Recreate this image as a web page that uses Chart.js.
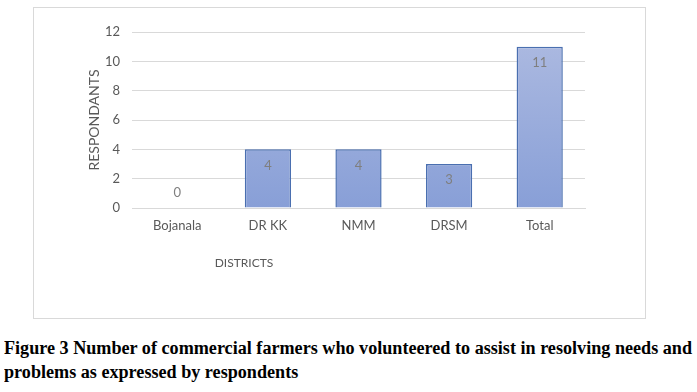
<!DOCTYPE html>
<html>
<head>
<meta charset="utf-8">
<script src="https://cdn.jsdelivr.net/npm/chart.js@4.4.1/dist/chart.umd.min.js"></script>
<style>
  body { margin: 0; background: #fff; width: 697px; height: 392px; overflow: hidden; position: relative; }
  #box { position: absolute; left: 33px; top: 7px; width: 611px; height: 310px; border: 1px solid #d9d9d9; }
  #caption { position: absolute; left: 4px; top: 336px; font-family: "Liberation Serif", serif; font-weight: bold;
    font-size: 18px; line-height: 24px; color: #000; white-space: nowrap; transform-origin: 0 0; }
</style>
</head>
<body>
<div id="box"><canvas id="chart"></canvas></div>
<div id="caption">Figure 3 Number of commercial farmers who volunteered to assist in resolving needs and<br>problems as expressed by respondents</div>
<script>
// chart data
const districts = ["Bojanala", "DR KK", "NMM", "DRSM", "Total"];
const respondants = [0, 4, 4, 3, 11];
const yTicks = [0, 2, 4, 6, 8, 10, 12];

const fontFam = "Lato, 'Open Sans', sans-serif";

// Excel-ish vertical gradient per bar
const barGradient = {
  id: "barGradient",
  beforeDatasetsDraw(chart) {
    const ctx = chart.ctx;
    chart.getDatasetMeta(0).data.forEach((bar) => {
      const g = ctx.createLinearGradient(0, bar.y, 0, bar.base);
      g.addColorStop(0, "#aab8e0");
      g.addColorStop(1, "#889fd7");
      bar.options.backgroundColor = g;
    });
  },
};

// value labels + x axis title
const valueLabels = {
  id: "valueLabels",
  afterDatasetsDraw(chart) {
    const ctx = chart.ctx;
    ctx.save();
    ctx.font = "13px " + fontFam;
    ctx.fillStyle = "#7f7f7f";
    ctx.textAlign = "center";
    ctx.textBaseline = "middle";
    chart.getDatasetMeta(0).data.forEach((bar, i) => {
      const v = respondants[i];
      const y = v > 0 ? bar.y + 16 : bar.y - 15;
      ctx.fillText(String(v), bar.x, y);
    });
    ctx.fillStyle = "#595959";
    ctx.font = "12px " + fontFam;
    ctx.fillText("DISTRICTS", chart.chartArea.left + 112, chart.chartArea.bottom + 55);
    ctx.restore();
  },
};

const canvas = document.getElementById("chart");
canvas.width = 611;
canvas.height = 310;

new Chart(canvas.getContext("2d"), {
  type: "bar",
  data: {
    labels: districts,
    datasets: [
      {
        label: "Respondants",
        data: respondants,
        backgroundColor: "#98acdc",
        borderColor: "#4a6fb0",
        borderWidth: 1.5,
        categoryPercentage: 1,
        barPercentage: 0.51,
      },
    ],
  },
  options: {
    responsive: false,
    animation: false,
    layout: { padding: { left: 48, right: 60, top: 24, bottom: 0 } },
    plugins: { legend: { display: false }, tooltip: { enabled: false } },
    scales: {
      x: {
        grid: { display: false, drawTicks: false },
        border: { display: true, color: "#d9d9d9", width: 1 },
        ticks: { color: "#595959", font: { family: fontFam, size: 13 }, padding: 10 },
        afterFit: (s) => { s.height = 110; },
      },
      y: {
        min: 0,
        max: 12,
        afterBuildTicks: (s) => { s.ticks = yTicks.map((v) => ({ value: v })); },
        grid: { color: "#d9d9d9", drawTicks: false },
        border: { display: false },
        ticks: { color: "#595959", font: { family: fontFam, size: 13 }, padding: 12 },
        title: { display: true, text: "RESPONDANTS", color: "#595959", font: { family: fontFam, size: 14 }, padding: 4 },
        afterFit: (s) => { s.width = 50; },
      },
    },
  },
  plugins: [barGradient, valueLabels],
});

// stretch caption to the reference width
const cap = document.getElementById("caption");
const w = cap.getBoundingClientRect().width;
cap.style.transform = "scaleX(" + (688 / w) + ")";
</script>
</body>
</html>
